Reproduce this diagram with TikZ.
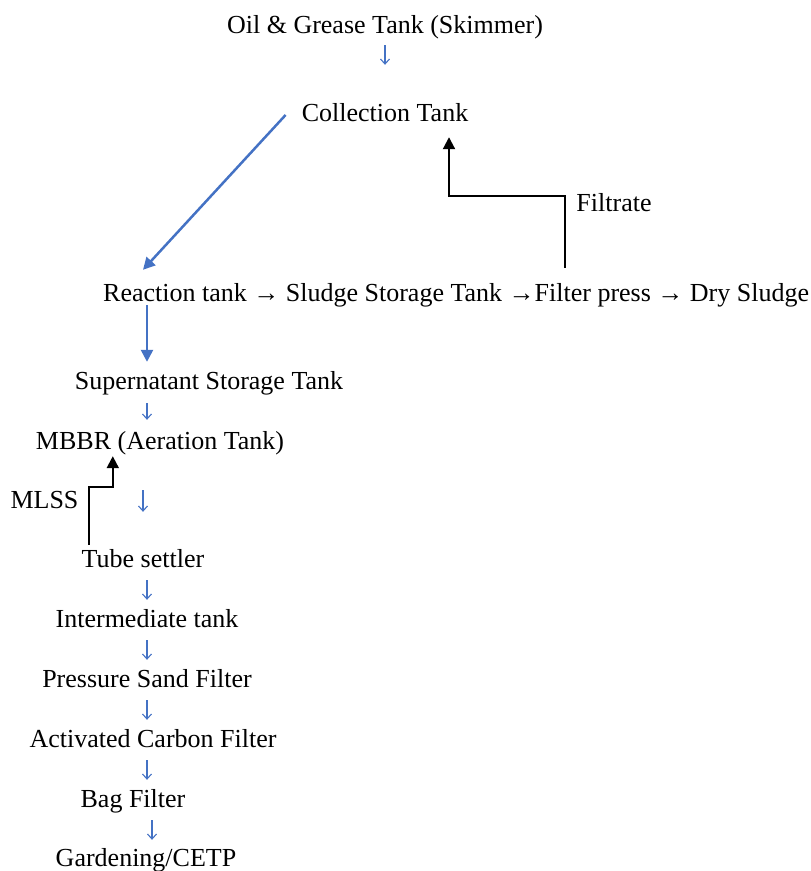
\documentclass[tikz,border=0pt]{standalone}
\usepackage{fontspec}
\setmainfont{Liberation Serif}
\usetikzlibrary{arrows.meta}
\definecolor{flowblue}{HTML}{4472C4}
\tikzset{
  lbl/.style={inner sep=0pt, text height=18pt, text depth=6pt, anchor=base, font=\fontsize{26}{30}\selectfont},
  sa/.style={draw=flowblue, line width=1.1pt, -{Straight Barb[length=5pt,width=9pt,line width=1.1pt]}},
  ba/.style={draw=flowblue, line width=2.5pt, -{Triangle[length=12pt,width=12pt]}},
  ka/.style={draw=black, line width=2pt, -{Triangle[length=12pt,width=12pt]}}
}
\begin{document}
\begin{tikzpicture}[x=1pt,y=1pt]
\useasboundingbox (0,0) rectangle (811,-871);
\node[lbl] (oil) at (385,-33) {Oil \& Grease Tank (Skimmer)};
\node[lbl] (coll) at (385,-121) {Collection Tank};
\node[lbl, anchor=base west] (react) at (103,-301) {Reaction tank → Sludge Storage Tank →Filter press → Dry Sludge};
\node[lbl] (filt) at (614,-211) {Filtrate};
\node[lbl] (sup) at (209,-389) {Supernatant Storage Tank};
\node[lbl] (mbbr) at (160,-449) {MBBR (Aeration Tank)};
\node[lbl] (mlss) at (44.5,-508) {MLSS};
\node[lbl] (tube) at (143,-567) {Tube settler};
\node[lbl] (inter) at (147,-627) {Intermediate tank};
\node[lbl] (psf) at (147,-687) {Pressure Sand Filter};
\node[lbl] (acf) at (153,-747) {Activated Carbon Filter};
\node[lbl] (bag) at (133,-807) {Bag Filter};
\node[lbl] (gard) at (146,-866) {Gardening/CETP};

\draw[sa] ([yshift=-6pt]oil.south) -- ([yshift=38pt]coll.north);
\draw[ba] ([xshift=-16pt]coll.west) -- ([xshift=40pt,yshift=13pt]react.north west);
\draw[ka] ([xshift=462pt,yshift=15pt]react.north west) -- ++(0,72) -| ([xshift=64pt,yshift=-10pt]coll.south);
\draw[ba] ([xshift=44pt,yshift=2pt]react.south west) -- ([xshift=-62pt,yshift=9pt]sup.north);
\draw[sa] ([xshift=-62pt,yshift=-8pt]sup.south) -- ([xshift=-13pt,yshift=11pt]mbbr.north);
\draw[sa] ([xshift=-17pt,yshift=-35pt]mbbr.south) -- ([yshift=37pt]tube.north);
\draw[ka] ([xshift=7pt,yshift=4pt]tube.north west) -- ++(0,58) -| ([xshift=77pt,yshift=-1pt]mbbr.south west);
\draw[sa] ([xshift=4pt,yshift=-7pt]tube.south) -- ([yshift=9pt]inter.north);
\draw[sa] ([yshift=-7pt]inter.south) -- ([yshift=9pt]psf.north);
\draw[sa] ([yshift=-7pt]psf.south) -- ([xshift=-6pt,yshift=9pt]acf.north);
\draw[sa] ([xshift=-6pt,yshift=-7pt]acf.south) -- ([xshift=14pt,yshift=9pt]bag.north);
\draw[sa] ([xshift=19pt,yshift=-7pt]bag.south) -- ([xshift=6pt,yshift=8pt]gard.north);
\end{tikzpicture}
\end{document}
